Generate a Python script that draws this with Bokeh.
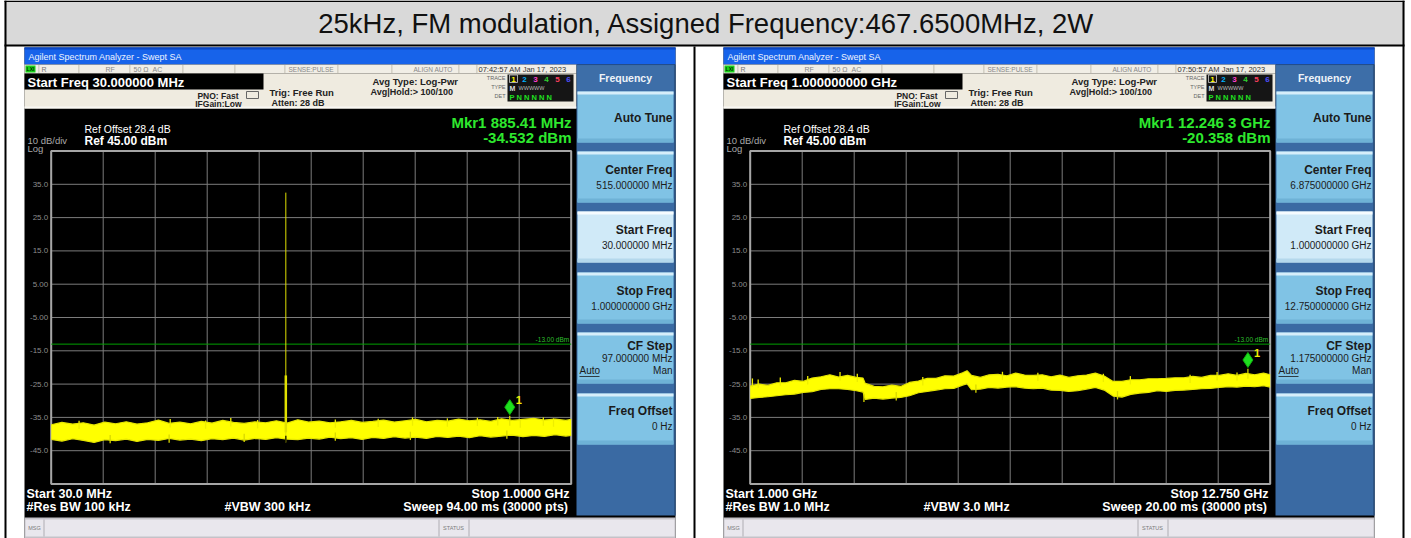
from bokeh.plotting import figure
from bokeh.models import Range1d
from bokeh.core.properties import value
from bokeh.embed import file_html
from bokeh.resources import INLINE

# ---------------------------------------------------------------- data
TITLE = "25kHz, FM modulation, Assigned Frequency:467.6500MHz, 2W"

REF_LEVEL_DBM = 45.0
DB_PER_DIV = 10.0
LIMIT_DBM = -13.0
Y_TICKS = [35, 25, 15, 5, -5, -15, -25, -35, -45]
Y_TICK_LABELS = ["35.0", "25.0", "15.0", "5.00", "-5.00", "-15.0", "-25.0", "-35.0", "-45.0"]

# Left sweep, 30 MHz .. 1 GHz (MHz)
L_START, L_STOP = 30.0, 1000.0
L_FREQ = [30, 50, 70, 90, 110, 130, 150, 170, 190, 210,
          230, 250, 270, 290, 310, 330, 350, 370, 390, 410,
          430, 450, 470, 490, 510, 530, 550, 570, 590, 610,
          630, 650, 670, 690, 710, 730, 750, 770, 790, 810,
          830, 850, 870, 890, 910, 930, 950, 970, 990, 1000]
L_UPPER = [-37.2, -36.5, -37.0, -36.6, -37.3, -36.4, -36.9, -36.3, -37.0, -36.6,
           -35.8, -36.8, -36.4, -36.9, -36.2, -36.7, -35.9, -36.5, -36.8, -36.3,
           -36.6, -36.0, -36.7, -35.7, -36.4, -36.1, -36.6, -36.3, -35.9, -36.5,
           -36.2, -35.8, -36.4, -36.0, -35.6, -36.3, -35.9, -36.1, -35.5, -36.0,
           -35.7, -36.2, -35.4, -35.9, -35.6, -35.3, -35.8, -35.5, -35.9, -35.6]
L_LOWER = [-41.6, -42.1, -41.4, -41.9, -42.5, -41.7, -42.0, -41.5, -42.2, -41.6,
           -41.9, -41.3, -41.8, -41.5, -42.0, -41.4, -41.7, -41.2, -41.8, -41.3,
           -41.6, -41.1, -41.5, -41.7, -41.2, -41.5, -40.9, -41.4, -41.1, -41.6,
           -41.0, -41.3, -40.8, -41.2, -40.9, -41.3, -40.7, -41.0, -40.6, -41.1,
           -40.5, -40.9, -40.6, -40.3, -40.8, -40.4, -40.7, -40.2, -40.6, -40.4]
L_SPIKE_FREQ = [82, 252, 318, 365, 415, 560, 640, 704, 769, 825, 863, 905, 948, 967]
L_SPIKE_TOP = [-36.0, -35.5, -35.9, -35.2, -35.8, -35.6, -35.4, -35.0, -35.3, -35.1,
               -34.9, -35.6, -35.0, -35.3]
L_DIP_FREQ = [140, 250, 390, 560, 700, 880]
L_DIP_BOTTOM = [-42.8, -42.6, -42.4, -42.0, -41.8, -41.4]
L_CARRIER_FREQ = 467.65
L_CARRIER_PEAK = 32.5
L_CARRIER_SKIRT = -22.4
L_CARRIER_FOOT = -42.5
L_MKR_FREQ = 885.41
L_MKR_DBM = -34.532

# Right sweep, 1 GHz .. 12.75 GHz (GHz)
R_START, R_STOP = 1.0, 12.75
R_FREQ = [1.0, 1.2, 1.4, 1.6, 1.8, 2.0, 2.2, 2.4, 2.6, 2.8,
          3.0, 3.2, 3.4, 3.55, 3.6, 3.8, 4.0, 4.2, 4.4, 4.6,
          4.8, 5.0, 5.2, 5.4, 5.6, 5.8, 5.9, 6.0, 6.2, 6.4,
          6.6, 6.8, 7.0, 7.2, 7.4, 7.6, 7.8, 8.0, 8.2, 8.4,
          8.6, 8.8, 9.0, 9.2, 9.4, 9.6, 9.8, 10.0, 10.2, 10.4,
          10.6, 10.8, 11.0, 11.2, 11.4, 11.6, 11.8, 12.0, 12.2, 12.4,
          12.6, 12.75]
R_UPPER = [-25.6, -25.0, -25.4, -24.6, -24.6, -23.9, -24.2, -23.2, -22.8, -22.2,
           -22.9, -22.4, -23.0, -23.2, -24.8, -25.7, -25.8, -25.3, -25.7, -24.5,
           -24.1, -23.3, -23.3, -22.5, -22.6, -21.6, -21.0, -22.4, -23.0, -22.2,
           -22.1, -22.5, -21.7, -22.3, -22.4, -22.2, -22.8, -22.3, -23.0, -22.5,
           -22.3, -21.7, -22.6, -24.2, -24.2, -23.7, -23.7, -23.4, -23.4, -23.3,
           -23.1, -23.1, -22.7, -23.0, -22.4, -22.4, -21.9, -22.4, -21.8, -22.2,
           -21.7, -22.2]
R_LOWER = [-29.3, -29.0, -28.8, -28.5, -28.2, -28.0, -27.5, -27.3, -26.6, -26.4,
           -26.4, -26.6, -27.0, -27.4, -29.6, -29.2, -29.5, -29.2, -29.0, -28.5,
           -27.6, -27.2, -26.8, -26.4, -26.3, -25.3, -24.9, -26.7, -26.5, -26.0,
           -26.2, -25.9, -25.8, -26.2, -26.4, -26.2, -26.8, -26.9, -27.2, -27.0,
           -26.5, -26.0, -26.8, -28.6, -28.9, -28.1, -27.7, -27.5, -27.0, -27.2,
           -26.9, -26.8, -26.6, -26.4, -26.3, -26.0, -25.8, -25.9, -25.6, -25.8,
           -25.5, -25.9]
R_SPIKE_FREQ = [1.05, 1.18, 1.68, 2.3, 3.03, 3.42, 4.9, 6.7, 7.5, 8.98, 9.59, 10.94,
                11.55, 12.0]
R_SPIKE_TOP = [-23.3, -23.6, -23.0, -22.6, -21.4, -21.9, -22.9, -21.3, -21.6, -21.9,
               -22.6, -22.2, -21.4, -21.5]
R_DIP_FREQ = [3.57, 4.3, 6.1, 9.3]
R_DIP_BOTTOM = [-30.4, -29.9, -27.6, -29.6]
R_MKR_FREQ = 12.2463
R_MKR_DBM = -20.358

LEFT_TEXT = dict(
    time="07:42:57 AM Jan 17, 2023", start_freq="Start Freq 30.000000 MHz",
    mkr="Mkr1 885.41 MHz", mkr_val="-34.532 dBm",
    center="515.000000 MHz", start="30.000000 MHz", stop="1.000000000 GHz",
    step="97.000000 MHz",
    bl1="Start 30.0 MHz", bl2="#Res BW 100 kHz", bm="#VBW 300 kHz",
    br1="Stop 1.0000 GHz", br2="Sweep  94.00 ms (30000 pts)")
RIGHT_TEXT = dict(
    time="07:50:57 AM Jan 17, 2023", start_freq="Start Freq 1.000000000 GHz",
    mkr="Mkr1 12.246 3 GHz", mkr_val="-20.358 dBm",
    center="6.875000000 GHz", start="1.000000000 GHz", stop="12.750000000 GHz",
    step="1.175000000 GHz",
    bl1="Start 1.000 GHz", bl2="#Res BW 1.0 MHz", bm="#VBW 3.0 MHz",
    br1="Stop 12.750 GHz", br2="Sweep  20.00 ms (30000 pts)")

# ---------------------------------------------------------------- layout / style
UI = "Liberation Sans"
GX0, GX1, GY_TOP, GY_BOT = 50.7, 570.7, 150.5, 483.5
RIGHT_DX = 699
MKR_LIFT_DB = 2.6
SPIKE_LEN_DB = 2.5

p = figure(width=1411, height=538, x_range=Range1d(0, 1411), y_range=Range1d(538, 0),
           output_backend="svg", toolbar_location=None, min_border=0,
           x_axis_location=None, y_axis_location=None)
p.grid.visible = False
p.outline_line_color = None
p.background_fill_color = "white"
p.border_fill_color = "white"


def box(x0, y0, x1, y1, fill, line=None, lw=1):
    p.quad(left=[x0], right=[x1], top=[y0], bottom=[y1], fill_color=fill,
           line_color=line, line_width=lw)


def label(x, y, s, size, color, align="left", bold=False, baseline="middle", font=UI):
    p.text(x=[x], y=[y], text=[s], text_font=value(font), text_font_size=f"{size}px",
           text_color=color, text_align=align, text_baseline=baseline,
           text_font_style="bold" if bold else "normal")


# table + title row
box(4, 0, 1404, 45, "#d9d9d9")
box(4, 0, 1404, 1.5, "black")
box(4, 44, 1404, 46, "black")
box(4, 0, 6, 538, "black")
box(1402, 0, 1404, 538, "black")
box(693, 46, 695, 538, "black")
label(706, 23, TITLE, 27.5, "#111111", align="center")


def draw_graph(dx, start, stop, freq, upper, lower, spikes, dips, mkr_f, mkr_db, carrier=None):
    bottom = REF_LEVEL_DBM - 10 * DB_PER_DIV
    g = p.subplot(x_source=Range1d(start, stop), y_source=Range1d(bottom, REF_LEVEL_DBM),
                  x_target=Range1d(GX0 + dx, GX1 + dx), y_target=Range1d(GY_BOT, GY_TOP))
    xs = [start + k * (stop - start) / 10 for k in range(11)]
    ys = [bottom + k * DB_PER_DIV for k in range(11)]
    g.segment(x0=xs, y0=[bottom] * 11, x1=xs, y1=[REF_LEVEL_DBM] * 11,
              line_color="#7c7c7c", line_width=1)
    g.segment(x0=[start] * 11, y0=ys, x1=[stop] * 11, y1=ys, line_color="#7c7c7c", line_width=1)
    g.quad(left=[start], right=[stop], bottom=[bottom], top=[REF_LEVEL_DBM],
           fill_color=None, line_color="#a6a6a6", line_width=2)
    g.text(x=[start] * len(Y_TICKS), y=Y_TICKS, text=Y_TICK_LABELS, x_offset=-3,
           text_align="right", text_baseline="middle", text_font=value(UI),
           text_font_size="8px", text_color="#8c8c8c")
    # limit line
    g.segment(x0=[start], y0=[LIMIT_DBM], x1=[stop], y1=[LIMIT_DBM],
              line_color="#00a000", line_width=1)
    g.text(x=[stop], y=[LIMIT_DBM], text=["-13.00 dBm"], x_offset=-2, y_offset=-1.5,
           text_align="right", text_baseline="bottom", text_font=value(UI),
           text_font_size="6.5px", text_color="#2dbf2d")
    # trace
    g.varea(x=freq, y1=lower, y2=upper, fill_color="#ffff00")
    g.line(freq, upper, line_color="#e6e600", line_width=1.2)
    g.line(freq, lower, line_color="#e6e600", line_width=1.2)
    sf, st = spikes
    g.segment(x0=sf, y0=[t - SPIKE_LEN_DB for t in st], x1=sf, y1=st,
              line_color="#eeee00", line_width=1.3)
    df, db = dips
    g.segment(x0=df, y0=[b + SPIKE_LEN_DB for b in db], x1=df, y1=db,
              line_color="#d8d800", line_width=1.3)
    if carrier is not None:
        cf, peak, skirt, foot = carrier
        g.segment(x0=[cf], y0=[foot], x1=[cf], y1=[peak], line_color="#dede00", line_width=1)
        g.segment(x0=[cf], y0=[foot + 3], x1=[cf], y1=[skirt], line_color="#e0e000",
                  line_width=2.5)
        g.segment(x0=[cf], y0=[foot], x1=[cf], y1=[foot + 2], line_color="#303000",
                  line_width=1.5)
    # marker
    g.segment(x0=[mkr_f], y0=[mkr_db - 3], x1=[mkr_f], y1=[mkr_db],
              line_color="#e6e600", line_width=1.2)
    g.scatter(x=[mkr_f], y=[mkr_db + MKR_LIFT_DB], marker="diamond", size=15,
              fill_color="#1ee01e", line_color="#10b010", line_width=1)
    g.text(x=[mkr_f], y=[mkr_db + MKR_LIFT_DB], text=["1"], x_offset=6, y_offset=-7,
           text_align="left", text_baseline="middle", text_font=value(UI),
           text_font_size="11px", text_color="#f0f000", text_font_style="bold")


def draw_screen(dx, t):
    X = lambda v: v + dx
    # whole screen
    box(X(24), 47, X(675), 538, "black")
    # window title bar
    box(X(24), 47, X(675), 64, "#1763ea")
    box(X(24), 47, X(675), 49, "#0b47c4")
    label(X(28), 56, "Agilent Spectrum Analyzer - Swept SA", 9, "#eef4ff")
    # status row
    box(X(24), 64, X(576), 73, "#f1eee6")
    box(X(25), 65, X(35), 72, "#18d018")
    label(X(30), 68.8, "LXI", 5, "#003000", align="center", bold=True)
    for sx in [38, 78, 129, 182, 234, 284, 337, 391, 458, 476]:
        box(X(sx), 64.5, X(sx + 0.8), 72.5, "#b8b3a6")
    label(X(41), 68.8, "R", 7, "#777777")
    label(X(105), 68.8, "RF", 7, "#888888")
    label(X(133), 68.8, "50 \u03a9", 7, "#888888")
    label(X(152), 68.8, "AC", 7, "#888888")
    label(X(288), 68.8, "SENSE:PULSE", 6.5, "#888888")
    label(X(413), 68.8, "ALIGN AUTO", 6.5, "#888888")
    label(X(478), 68.8, t["time"], 7.5, "#333333")
    # settings area
    box(X(24), 73, X(576), 108, "#efebe0")
    box(X(24), 106, X(576), 108, "#f9f8f3")
    box(X(24), 73, X(263), 89, "black")
    label(X(27), 81.5, t["start_freq"], 13, "white", bold=True)
    label(X(238), 95, "PNO: Fast", 8.5, "#222222", align="right", bold=True)
    label(X(241), 103, "IFGain:Low", 8.5, "#222222", align="right", bold=True)
    box(X(246), 91, X(258), 98, None, "#666666", 1)
    label(X(269), 92, "Trig: Free Run", 9.5, "#222222", bold=True)
    label(X(271), 102, "Atten: 28 dB", 9, "#222222", bold=True)
    label(X(372), 81, "Avg Type: Log-Pwr", 9.5, "#222222", bold=True)
    label(X(370), 91, "Avg|Hold:> 100/100", 9, "#222222", bold=True)
    label(X(505), 77.5, "TRACE", 5.5, "#666666", align="right")
    label(X(505), 86.5, "TYPE", 5.5, "#666666", align="right")
    label(X(505), 95.5, "DET", 5.5, "#666666", align="right")
    box(X(507), 74, X(573), 101, "#151515")
    box(X(509), 74.5, X(517), 82, None, "#d0d0d0", 0.8)
    for i, c in enumerate(["#ffff00", "#00b4ff", "#ff40d0", "#30d030", "#ff4060", "#5050ff"]):
        label(X(513 + 11 * i), 78.5, str(i + 1), 8, c, align="center", bold=True)
    label(X(509), 87.5, "M", 7, "#dddddd", bold=True)
    label(X(518), 87.5, "WWWWW", 5.5, "#bbbbbb")
    label(X(509), 96.5, "P N N N N N", 7.5, "#20e020", bold=True)
    # readouts
    label(X(84), 128, "Ref Offset 28.4 dB", 10.5, "white")
    label(X(27), 140, "10 dB/div", 9.5, "#a8a8a8")
    label(X(84), 140, "Ref 45.00 dBm", 12, "white", bold=True)
    label(X(27), 148, "Log", 9.5, "#a8a8a8")
    label(X(571), 122, t["mkr"], 15, "#2ee82e", align="right", bold=True)
    label(X(571), 137, t["mkr_val"], 15, "#2ee82e", align="right", bold=True)
    # bottom annotations
    label(X(26), 493, t["bl1"], 12.5, "white", bold=True)
    label(X(26), 506.5, t["bl2"], 12.5, "white", bold=True)
    label(X(224), 506.5, t["bm"], 12.5, "white", bold=True)
    label(X(569), 493, t["br1"], 12.5, "white", align="right", bold=True)
    label(X(571), 506.5, t["br2"], 12.5, "white", align="right", bold=True)
    # message / status bar
    box(X(24), 517, X(675), 538, "#c4c2c8")
    box(X(25), 519, X(674), 536, "#e9e7ed")
    box(X(43), 519, X(44), 536, "#b0aeb4")
    label(X(34), 527.5, "MSG", 5.5, "#7a7a7a", align="center")
    box(X(438), 519, X(439), 536, "#b0aeb4")
    box(X(468), 519, X(469), 536, "#b0aeb4")
    label(X(453), 527.5, "STATUS", 5.5, "#7a7a7a", align="center")
    # soft keys
    box(X(576), 64, X(675), 515, "#3a6aa3")
    box(X(674), 64, X(675), 515, "#1e3f69")
    box(X(577), 65, X(673), 90, "#3d6ea8")
    label(X(625), 77.5, "Frequency", 10.5, "#eef3f8", align="center", bold=True)
    tops = [91, 151, 211, 272, 332, 393]
    for i, top in enumerate(tops):
        hl = (i == 2)
        box(X(577), top, X(673), top + 51, "#d0eaf8" if hl else "#80c3e5")
        box(X(577), top, X(673), top + 3, "#f6fcff" if hl else "#d6eefa")
        box(X(577), top + 47, X(673), top + 51, "#b4d8ec" if hl else "#6eb2d6")
    dark = "#1b1b1b"
    label(X(672), 117, "Auto Tune", 12, dark, align="right", bold=True)
    label(X(672), 169, "Center Freq", 12, dark, align="right", bold=True)
    label(X(672), 185, t["center"], 10, dark, align="right")
    label(X(672), 229, "Start Freq", 12, dark, align="right", bold=True)
    label(X(672), 245, t["start"], 10, dark, align="right")
    label(X(672), 290, "Stop Freq", 12, dark, align="right", bold=True)
    label(X(672), 306, t["stop"], 10, dark, align="right")
    label(X(672), 345, "CF Step", 12, dark, align="right", bold=True)
    label(X(672), 357.5, t["step"], 10, dark, align="right")
    label(X(579), 370, "Auto", 10, dark)
    box(X(579), 375.5, X(599), 376.3, dark)
    label(X(672), 370, "Man", 10, dark, align="right")
    label(X(672), 410, "Freq Offset", 12, dark, align="right", bold=True)
    label(X(672), 426, "0 Hz", 10, dark, align="right")


draw_screen(0, LEFT_TEXT)
draw_graph(0, L_START, L_STOP, L_FREQ, L_UPPER, L_LOWER,
           (L_SPIKE_FREQ, L_SPIKE_TOP), (L_DIP_FREQ, L_DIP_BOTTOM), L_MKR_FREQ, L_MKR_DBM,
           carrier=(L_CARRIER_FREQ, L_CARRIER_PEAK, L_CARRIER_SKIRT, L_CARRIER_FOOT))
draw_screen(RIGHT_DX, RIGHT_TEXT)
draw_graph(RIGHT_DX, R_START, R_STOP, R_FREQ, R_UPPER, R_LOWER,
           (R_SPIKE_FREQ, R_SPIKE_TOP), (R_DIP_FREQ, R_DIP_BOTTOM), R_MKR_FREQ, R_MKR_DBM)

open("out.html", "w").write(file_html(p, INLINE))
